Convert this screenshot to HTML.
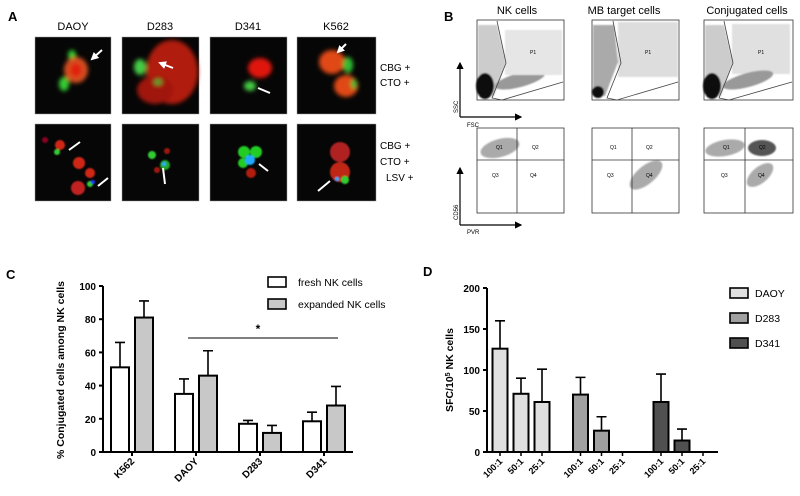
<!DOCTYPE html>
<html><head><meta charset="utf-8">
<style>
body{margin:0;background:#fff;}
svg{display:block;font-family:"Liberation Sans",Arial,sans-serif;}
</style></head>
<body>
<svg id="fig" width="800" height="496" viewBox="0 0 800 496" xmlns="http://www.w3.org/2000/svg">
<defs>
<filter id="blur" x="-50%" y="-50%" width="200%" height="200%"><feGaussianBlur stdDeviation="2"/></filter>
<filter id="blur1"><feGaussianBlur stdDeviation="0.8"/></filter>
<marker id="arr" markerWidth="6" markerHeight="6" refX="5" refY="3" orient="auto"><path d="M0,0 L6,3 L0,6 z" fill="#000"/></marker>
<marker id="warr" markerWidth="4" markerHeight="4" refX="3" refY="2" orient="auto"><path d="M0,0 L4,2 L0,4 z" fill="#fff"/></marker>
</defs>

<!-- Panel A -->
<g>
<text x="8" y="21" font-size="13" font-weight="bold">A</text>
<g font-size="11" text-anchor="middle">
<text x="73" y="30">DAOY</text><text x="160" y="30">D283</text><text x="248" y="30">D341</text><text x="336" y="30">K562</text>
</g>
<g font-size="10">
<text x="380" y="71">CBG +</text><text x="380" y="86">CTO +</text>
<text x="380" y="149">CBG +</text><text x="380" y="165">CTO +</text><text x="386" y="181">LSV +</text>
</g>
<!-- row 1 -->
<g>
<rect x="35" y="37" width="76" height="77" fill="#060606" stroke="#999" stroke-width="0.5"/>
<g filter="url(#blur)"><ellipse cx="64" cy="84" rx="5" ry="7" fill="#3c3"/><ellipse cx="72" cy="55" rx="4" ry="5" fill="#3c3"/><ellipse cx="76" cy="70" rx="12" ry="13" fill="#d55020"/><ellipse cx="76" cy="70" rx="6" ry="7" fill="#e02010"/></g>
<line x1="102" y1="50" x2="92" y2="59" stroke="#fff" stroke-width="2" marker-end="url(#warr)"/>
</g>
<g>
<rect x="122" y="37" width="77" height="77" fill="#060606" stroke="#999" stroke-width="0.5"/>
<g filter="url(#blur)"><ellipse cx="172" cy="72" rx="26" ry="32" fill="#b01a10"/><ellipse cx="155" cy="90" rx="18" ry="14" fill="#a01810"/><ellipse cx="140" cy="67" rx="6" ry="8" fill="#4c4"/><ellipse cx="158" cy="82" rx="4" ry="3" fill="#4a3"/></g>
<line x1="173" y1="68" x2="160" y2="63" stroke="#fff" stroke-width="2" marker-end="url(#warr)"/>
</g>
<g>
<rect x="210" y="37" width="77" height="77" fill="#060606" stroke="#999" stroke-width="0.5"/>
<g filter="url(#blur)"><ellipse cx="260" cy="68" rx="12" ry="10" fill="#e01810"/><ellipse cx="250" cy="86" rx="6" ry="5" fill="#4c4"/></g>
<line x1="258" y1="88" x2="270" y2="93" stroke="#fff" stroke-width="2"/>
</g>
<g>
<rect x="297" y="37" width="79" height="77" fill="#060606" stroke="#999" stroke-width="0.5"/>
<g filter="url(#blur)"><ellipse cx="332" cy="62" rx="13" ry="12" fill="#e04a15"/><ellipse cx="348" cy="65" rx="5" ry="8" fill="#3b3"/><ellipse cx="346" cy="86" rx="12" ry="11" fill="#e04a15"/><ellipse cx="354" cy="84" rx="3" ry="5" fill="#3b3"/></g>
<line x1="346" y1="44" x2="338" y2="52" stroke="#fff" stroke-width="2" marker-end="url(#warr)"/>
</g>
<!-- row 2 -->
<g>
<rect x="35" y="124" width="76" height="77" fill="#060606" stroke="#999" stroke-width="0.5"/>
<g filter="url(#blur1)"><circle cx="60" cy="145" r="5" fill="#d02818"/><circle cx="45" cy="140" r="3" fill="#802"/><circle cx="79" cy="163" r="6" fill="#d02818"/><circle cx="90" cy="173" r="5" fill="#d02818"/><circle cx="78" cy="188" r="7" fill="#c02020"/><circle cx="57" cy="152" r="3" fill="#3c3"/><circle cx="90" cy="184" r="3" fill="#3c3"/><circle cx="93" cy="182" r="2" fill="#23f"/></g>
<line x1="80" y1="142" x2="69" y2="150" stroke="#fff" stroke-width="2"/>
<line x1="108" y1="178" x2="98" y2="186" stroke="#fff" stroke-width="2"/>
</g>
<g>
<rect x="122" y="124" width="77" height="77" fill="#060606" stroke="#999" stroke-width="0.5"/>
<g filter="url(#blur1)"><circle cx="152" cy="155" r="4" fill="#3c3"/><circle cx="165" cy="165" r="5" fill="#2a2"/><circle cx="164" cy="164" r="2" fill="#3af"/><circle cx="167" cy="151" r="3" fill="#a01810"/><circle cx="157" cy="170" r="3" fill="#a01810"/></g>
<line x1="165" y1="184" x2="163" y2="168" stroke="#fff" stroke-width="2"/>
</g>
<g>
<rect x="210" y="124" width="77" height="77" fill="#060606" stroke="#999" stroke-width="0.5"/>
<g filter="url(#blur1)"><circle cx="244" cy="152" r="6" fill="#2c2"/><circle cx="256" cy="152" r="6" fill="#2c2"/><circle cx="243" cy="163" r="5" fill="#2c2"/><circle cx="250" cy="160" r="5" fill="#2af"/><circle cx="251" cy="173" r="5" fill="#b01a10"/></g>
<line x1="268" y1="171" x2="259" y2="164" stroke="#fff" stroke-width="2"/>
</g>
<g>
<rect x="297" y="124" width="79" height="77" fill="#060606" stroke="#999" stroke-width="0.5"/>
<g filter="url(#blur1)"><circle cx="340" cy="152" r="10" fill="#b02020"/><circle cx="340" cy="172" r="10" fill="#c02818"/><circle cx="345" cy="180" r="4" fill="#3c3"/><circle cx="337" cy="179" r="2" fill="#2af"/></g>
<line x1="318" y1="191" x2="330" y2="181" stroke="#fff" stroke-width="2"/>
</g>
</g>

<!-- Panel B -->
<g>
<text x="444" y="21" font-size="13" font-weight="bold">B</text>
<g font-size="11" text-anchor="middle">
<text x="517" y="14">NK cells</text><text x="624" y="14">MB target cells</text><text x="747" y="14">Conjugated cells</text>
</g>
<g>
<rect x="477" y="20" width="87" height="80" fill="#fff" stroke="#333" stroke-width="0.8"/>
<g filter="url(#blur1)"><path d="M478,25 L497,25 L506,62 L494,96 L478,96z" fill="#ccc"/><ellipse cx="485" cy="86" rx="9" ry="13" fill="#111"/><ellipse cx="520" cy="80" rx="26" ry="7" fill="#999" transform="rotate(-15 520 80)"/><rect x="505" y="30" width="57" height="45" fill="#e6e6e6"/></g>
<polyline points="497,21 506,63 492,98 502,100 563,82" fill="none" stroke="#444" stroke-width="0.8"/>
<text x="530" y="54" font-size="5">P1</text>
</g>
<g>
<rect x="592" y="20" width="87" height="80" fill="#fff" stroke="#333" stroke-width="0.8"/>
<g filter="url(#blur1)"><rect x="618" y="22" width="60" height="55" fill="#ddd"/><path d="M593,25 L614,25 L618,62 L605,96 L593,96z" fill="#aaa"/><ellipse cx="598" cy="92" rx="6" ry="6" fill="#111"/></g>
<polyline points="613,21 621,63 607,98 617,100 678,82" fill="none" stroke="#444" stroke-width="0.8"/>
<text x="645" y="54" font-size="5">P1</text>
</g>
<g>
<rect x="704" y="20" width="89" height="80" fill="#fff" stroke="#333" stroke-width="0.8"/>
<g filter="url(#blur1)"><rect x="732" y="24" width="58" height="50" fill="#e0e0e0"/><path d="M705,25 L724,25 L733,62 L721,96 L705,96z" fill="#ccc"/><ellipse cx="712" cy="86" rx="9" ry="13" fill="#111"/><ellipse cx="748" cy="80" rx="26" ry="7" fill="#999" transform="rotate(-15 748 80)"/></g>
<polyline points="724,21 733,63 719,98 729,100 792,82" fill="none" stroke="#444" stroke-width="0.8"/>
<text x="758" y="54" font-size="5">P1</text>
</g>
<g>
<rect x="477" y="128" width="87" height="85" fill="#fff" stroke="#333" stroke-width="0.8"/>
<ellipse cx="500" cy="148" rx="20" ry="9" fill="#aaa" filter="url(#blur1)" transform="rotate(-15 500 148)"/>
<line x1="517" y1="128" x2="517" y2="213" stroke="#333" stroke-width="0.8"/><line x1="477" y1="160" x2="564" y2="160" stroke="#333" stroke-width="0.8"/>
<g font-size="5"><text x="496" y="149">Q1</text><text x="532" y="149">Q2</text><text x="492" y="177">Q3</text><text x="530" y="177">Q4</text></g>
</g>
<g>
<rect x="592" y="128" width="87" height="85" fill="#fff" stroke="#333" stroke-width="0.8"/>
<ellipse cx="646" cy="175" rx="20" ry="9" fill="#aaa" filter="url(#blur1)" transform="rotate(-40 646 175)"/>
<line x1="632" y1="128" x2="632" y2="213" stroke="#333" stroke-width="0.8"/><line x1="592" y1="160" x2="679" y2="160" stroke="#333" stroke-width="0.8"/>
<g font-size="5"><text x="610" y="149">Q1</text><text x="646" y="149">Q2</text><text x="607" y="177">Q3</text><text x="646" y="177">Q4</text></g>
</g>
<g>
<rect x="704" y="128" width="89" height="85" fill="#fff" stroke="#333" stroke-width="0.8"/>
<ellipse cx="725" cy="148" rx="20" ry="8" fill="#aaa" filter="url(#blur1)" transform="rotate(-10 725 148)"/>
<ellipse cx="762" cy="148" rx="14" ry="8" fill="#555" filter="url(#blur1)"/>
<ellipse cx="760" cy="175" rx="16" ry="8" fill="#aaa" filter="url(#blur1)" transform="rotate(-40 760 175)"/>
<line x1="745" y1="128" x2="745" y2="213" stroke="#333" stroke-width="0.8"/><line x1="704" y1="160" x2="793" y2="160" stroke="#333" stroke-width="0.8"/>
<g font-size="5"><text x="723" y="149">Q1</text><text x="759" y="149">Q2</text><text x="721" y="177">Q3</text><text x="758" y="177">Q4</text></g>
</g>
<g>
<line x1="460" y1="117" x2="460" y2="63" stroke="#000" stroke-width="1.2" marker-end="url(#arr)"/>
<line x1="460" y1="117" x2="521" y2="117" stroke="#000" stroke-width="1.2" marker-end="url(#arr)"/>
<line x1="460" y1="225" x2="460" y2="168" stroke="#000" stroke-width="1.2" marker-end="url(#arr)"/>
<line x1="460" y1="225" x2="521" y2="225" stroke="#000" stroke-width="1.2" marker-end="url(#arr)"/>
<text x="467" y="127" font-size="6">FSC</text><text x="467" y="234" font-size="6">PVR</text>
<text transform="translate(458,113) rotate(-90)" font-size="6">SSC</text>
<text transform="translate(458,220) rotate(-90)" font-size="6">CD56</text>
</g>
</g>

<!-- Panel C -->
<g id="chartC">
<text x="6" y="279" font-size="13" font-weight="bold">C</text>
</g>
<!-- Panel D -->
<g id="chartD">
<text x="423" y="276" font-size="13" font-weight="bold">D</text>
</g>
</svg>
<script>
const NS="http://www.w3.org/2000/svg";
// Chart C data
const cCategories=["K562","DAOY","D283","D341"];
const cFresh=[51,35,17,18.5];
const cFreshErr=[15,9,2,5.5];
const cExpanded=[81,46,11.5,28];
const cExpandedErr=[10,15,4.5,11.5];
const cTicks=[0,20,40,60,80,100];
// Chart D data
const dGroups=["DAOY","D283","D341"];
const dRatios=["100:1","50:1","25:1"];
const dDaoy=[126,71,61];
const dDaoyErr=[34,19,40];
const dD283=[70,26,0];
const dD283Err=[21,17,0];
const dD341=[61,14,0];
const dD341Err=[34,14,0];
const dTicks=[0,50,100,150,200];

function mk(parent,tag,attrs,txt){const e=document.createElementNS(NS,tag);for(const k in attrs)e.setAttribute(k,attrs[k]);if(txt!==undefined)e.textContent=txt;parent.appendChild(e);return e;}

// ---- Chart C
(function(){
const g=document.getElementById('chartC');
const x0=103,yTop=286,yBot=452,xEnd=353;
const y=v=>yBot-(v/100)*(yBot-yTop);
const gc=i=>132+i*64;
const bw=18;
cTicks.forEach(t=>{
 const tl=mk(g,'line',{x1:x0-4,x2:x0,y1:y(t),y2:y(t),stroke:'#000','stroke-width':2});
 
 
 const tx=mk(g,'text',{x:x0-7,y:y(t)+4,'text-anchor':'end','font-size':10,'font-weight':'bold'},t);
 
 
});
function bar(cx,v,e,fill,name){
 const b=mk(g,'rect',{x:cx-bw/2,y:y(v),width:bw,height:yBot-y(v),fill:fill,stroke:'#000','stroke-width':2});
 
 
 const el=mk(g,'path',{d:`M${cx},${y(v)}V${y(v+e)}M${cx-5},${y(v+e)}H${cx+5}`,stroke:'#000','stroke-width':1.6,fill:'none'});
 
 
}
cCategories.forEach((c,i)=>{
 bar(gc(i)-12,cFresh[i],cFreshErr[i],'#fff','bar-fresh-'+c.toLowerCase());
 bar(gc(i)+12,cExpanded[i],cExpandedErr[i],'#c8c8c8','bar-expanded-'+c.toLowerCase());
 const tk=mk(g,'line',{x1:gc(i),x2:gc(i),y1:yBot,y2:yBot+4,stroke:'#000','stroke-width':2});
 
 
 const lb=mk(g,'text',{transform:`translate(${gc(i)+3},${yBot+10}) rotate(-45)`,'text-anchor':'end','font-size':10,'font-weight':'bold'},c);
 
 
});
const ya=mk(g,'line',{x1:x0,x2:x0,y1:yTop,y2:yBot+1,stroke:'#000','stroke-width':2});


const xa=mk(g,'line',{x1:x0-1,x2:xEnd,y1:yBot,y2:yBot,stroke:'#000','stroke-width':2});


const yt=mk(g,'text',{transform:'translate(64,370) rotate(-90)','text-anchor':'middle','font-size':10.5,'font-weight':'bold'},'% Conjugated cells among NK cells');


const sl=mk(g,'line',{x1:188,x2:338,y1:338,y2:338,stroke:'#000','stroke-width':1});


const st=mk(g,'text',{x:258,y:333,'text-anchor':'middle','font-size':12,'font-weight':'bold'},'*');


const l1=mk(g,'rect',{x:268,y:277,width:18,height:10,fill:'#fff',stroke:'#000','stroke-width':1.6});


const t1=mk(g,'text',{x:298,y:286,'font-size':10.5},'fresh NK cells');


const l2=mk(g,'rect',{x:268,y:299,width:18,height:10,fill:'#c8c8c8',stroke:'#000','stroke-width':1.6});


const t2=mk(g,'text',{x:298,y:308,'font-size':10.5},'expanded NK cells');


})();

// ---- Chart D
(function(){
const g=document.getElementById('chartD');
const x0=487,yTop=288,yBot=452,xEnd=718;
const y=v=>yBot-(v/200)*(yBot-yTop);
const bw=15;
const pos=(gi,ri)=>500+gi*80.5+ri*21;
const series=[dDaoy,dD283,dD341],errs=[dDaoyErr,dD283Err,dD341Err];
const fills=['#e0e0e0','#a0a0a0','#505050'];
dTicks.forEach(t=>{
 const tl=mk(g,'line',{x1:x0-4,x2:x0,y1:y(t),y2:y(t),stroke:'#000','stroke-width':2});
 
 
 const tx=mk(g,'text',{x:x0-7,y:y(t)+4,'text-anchor':'end','font-size':10,'font-weight':'bold'},t);
 
 
});
dGroups.forEach((gn,gi)=>{
 dRatios.forEach((r,ri)=>{
  const cx=pos(gi,ri),v=series[gi][ri],e=errs[gi][ri];
  if(v>0){
   const b=mk(g,'rect',{x:cx-bw/2,y:y(v),width:bw,height:yBot-y(v),fill:fills[gi],stroke:'#000','stroke-width':2});
   
   
   const el=mk(g,'path',{d:`M${cx},${y(v)}V${y(v+e)}M${cx-5},${y(v+e)}H${cx+5}`,stroke:'#000','stroke-width':1.6,fill:'none'});
   
   
  }
  const tk=mk(g,'line',{x1:cx,x2:cx,y1:yBot,y2:yBot+4,stroke:'#000','stroke-width':1.5});
  
  
  const lb=mk(g,'text',{transform:`translate(${cx+3},${yBot+10}) rotate(-45)`,'text-anchor':'end','font-size':9,'font-weight':'bold'},r);
  
  
 });
 const ls=mk(g,'rect',{x:730,y:288+gi*25,width:18,height:10,fill:fills[gi],stroke:'#000','stroke-width':1.6});
 
 
 const lt=mk(g,'text',{x:755,y:297+gi*25,'font-size':10.5},gn);
 
 
});
const ya=mk(g,'line',{x1:x0,x2:x0,y1:yTop,y2:yBot+1,stroke:'#000','stroke-width':2});


const xa=mk(g,'line',{x1:x0-1,x2:xEnd,y1:yBot,y2:yBot,stroke:'#000','stroke-width':2});


const yt=mk(g,'text',{transform:'translate(453,370) rotate(-90)','text-anchor':'middle','font-size':10.5,'font-weight':'bold'});


mk(yt,'tspan',{},'SFC/10');
mk(yt,'tspan',{'baseline-shift':'super','font-size':7},'5');
mk(yt,'tspan',{},' NK cells');
})();
</script>
</body></html>
